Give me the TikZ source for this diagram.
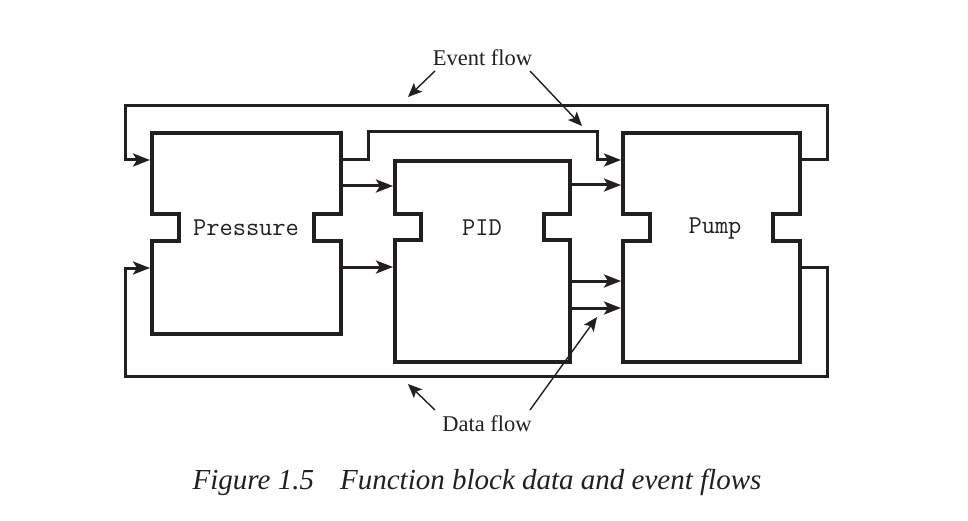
\documentclass[tikz,border=0pt]{standalone}
\usepackage{fontspec}
\setmainfont{Liberation Serif}
\usetikzlibrary{arrows.meta}
\definecolor{ink}{RGB}{35,31,32}
\tikzset{
  blockline/.style={draw=ink, line width=4.5pt, line join=miter},
  flow/.style={draw=ink, line width=3pt, line join=miter, -{Stealth[length=17pt,width=13pt,inset=4pt]}},
  note/.style={draw=ink, line width=1.4pt, -{Stealth[length=14pt,width=12pt,inset=3pt]}},
  blocklabel/.style={font=\ttfamily\fontsize{25.7}{30}\selectfont, text=ink, inner sep=0pt},
  notelabel/.style={font=\fontsize{22.5}{26}\selectfont, text=ink, inner sep=0pt},
}
\newcommand{\fbblock}[7]{% L R T B y1 y2 d
  \draw[blockline] (#1,#3) -- (#2,#3) -- (#2,#5) -- (#2-#7,#5) -- (#2-#7,#6) -- (#2,#6) -- (#2,#4)
    -- (#1,#4) -- (#1,#6) -- (#1+#7,#6) -- (#1+#7,#5) -- (#1,#5) -- cycle;}
\begin{document}
\begin{tikzpicture}[x=1pt,y=-1pt]
\useasboundingbox (0,0) rectangle (968,521);
% blocks
\fbblock{152}{341}{133}{334}{214}{241}{27}
\fbblock{395}{570}{161}{362}{214}{240}{26}
\fbblock{623}{800}{133}{362}{214}{241}{27}
\node[blocklabel] (pressure) at (246,228) {Pressure};
\node[blocklabel] (pid) at (482,228) {PID};
\node[blocklabel] (pump) at (715,229) {Pump};
% ports
\coordinate (prEin) at (150,160);
\coordinate (prDin) at (150,268);
\coordinate (prEout) at (341,160);
\coordinate (prD1) at (341,186);
\coordinate (prD2) at (341,267);
\coordinate (pidD1in) at (393,186);
\coordinate (pidD2in) at (393,267);
\coordinate (pidD1) at (570,185);
\coordinate (pidD2) at (570,281);
\coordinate (pidD3) at (570,308);
\coordinate (puE) at (621,160);
\coordinate (puD1) at (621,185);
\coordinate (puD2) at (621,281);
\coordinate (puD3) at (621,308);
\coordinate (puEout) at (800,160);
\coordinate (puDout) at (800,267);
% event loop from Pump to Pressure
\draw[flow] (puEout) -- (827,160) -- (827,106) -- (125,106) -- (125,160) -- (prEin);
% data loop from Pump to Pressure
\draw[flow] (puDout) -- (827,267) -- (827,376) -- (125,376) -- (125,268) -- (prDin);
% Pressure event to Pump
\draw[flow] (prEout) -- (368,160) -- (368,132) -- (597,132) -- (597,160) -- (puE);
% data flows
\draw[flow] (prD1) -- (pidD1in);
\draw[flow] (prD2) -- (pidD2in);
\draw[flow] (pidD1) -- (puD1);
\draw[flow] (pidD2) -- (puD2);
\draw[flow] (pidD3) -- (puD3);
% annotations
\node[notelabel] (ev) at (482.5,58) {Event flow};
\node[notelabel] (df) at (487,424) {Data flow};
\coordinate (evA) at (408,97);
\coordinate (evB) at (582,126);
\coordinate (dfA) at (408,384);
\coordinate (dfB) at (597,317);
\draw[note] (435,71) -- (evA);
\draw[note] (530,71) -- (evB);
\draw[note] (435,410) -- (dfA);
\draw[note] (530,410) -- (dfB);
% caption
\node[font=\itshape\fontsize{29}{34}\selectfont, text=ink, inner sep=0pt] (cap) at (477,482) {Figure 1.5\hspace{0.9em}Function block data and event flows};
\end{tikzpicture}
\end{document}
